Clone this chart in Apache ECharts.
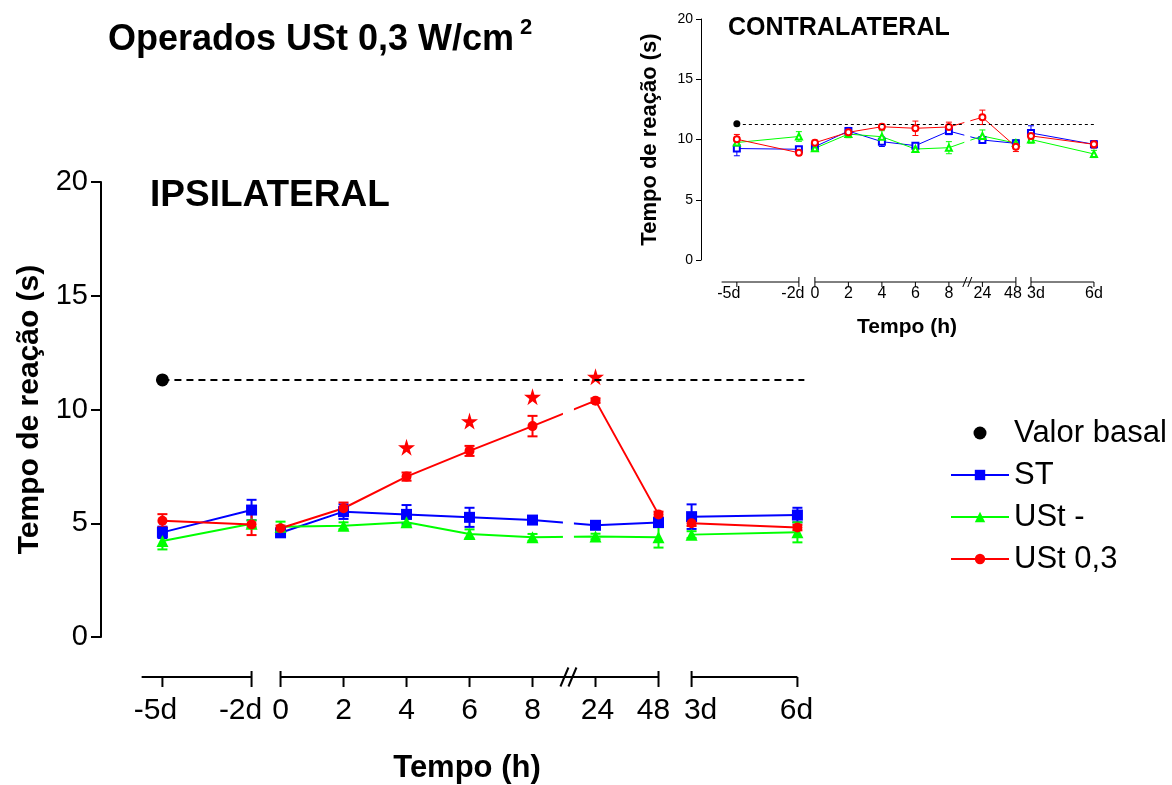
<!DOCTYPE html>
<html>
<head>
<meta charset="utf-8">
<script src="https://cdn.jsdelivr.net/npm/echarts@6/dist/echarts.min.js"></script>
<style>
  html, body { margin: 0; padding: 0; background: #fff; }
  #chart { width: 1172px; height: 785px; }
</style>
</head>
<body>
<div id="chart"></div>
<script>
// ---- time axis -------------------------------------------------------------
const tickLabels = ['-5d', '-2d', '0', '2', '4', '6', '8', '24', '48', '3d', '6d'];
// where each time point sits on the broken time axis (hour slots, 2 h apart)
const ipsiSlots = [-3.75, -0.92, 0, 2, 4, 6, 8, 10, 12, 13.05, 16.41];
const contraSlots = [-4.66, -0.955, 0, 2, 4, 6, 8, 10, 12, 12.9, 16.66];
// tick style per time point: 1 = segment end (tick crosses the line), 0 = plain tick
const tickCrosses = [0, 1, 1, 0, 0, 0, 0, 0, 1, 1, 0];
// points after which the curves are not joined
const unjoinedAfter = [1, 8];

// ---- baseline ---------------------------------------------------------------
const basal = 11.3;

// ---- IPSILATERAL (mean and error) ------------------------------------------
const ipsiST      = [4.60, 5.58, 4.58, 5.51, 5.39, 5.26, 5.14, 4.91, 5.03, 5.29, 5.36];
const ipsiSTErr   = [0.25, 0.45, 0.15, 0.32, 0.41, 0.42, 0.15, 0.12, 0.18, 0.54, 0.32];
const ipsiUStNeg    = [4.22, 4.98, 4.85, 4.89, 5.04, 4.53, 4.38, 4.42, 4.38, 4.50, 4.60];
const ipsiUStNegErr = [0.37, 0.15, 0.22, 0.15, 0.15, 0.2, 0.15, 0.12, 0.45, 0.15, 0.44];
const ipsiUSt03    = [5.11, 4.95, 4.78, 5.66, 7.05, 8.18, 9.27, 10.39, 5.39, 5.00, 4.81];
const ipsiUSt03Err = [0.29, 0.47, 0.12, 0.25, 0.18, 0.22, 0.45, 0.1, 0.12, 0.12, 0.12];
// significance marks
const starLabels = ['4', '6', '8', '24'];
const starValues = [8.34, 9.49, 10.56, 11.44];

// ---- CONTRALATERAL (mean and error) ----------------------------------------
const contraST      = [9.25, 9.19, 9.40, 10.70, 9.82, 9.49, 10.70, 9.96, 9.68, 10.54, 9.60];
const contraSTErr   = [0.60, 0.20, 0.30, 0.30, 0.40, 0.20, 0.30, 0.20, 0.30, 0.60, 0.30];
const contraUStNeg    = [9.75, 10.25, 9.27, 10.45, 10.23, 9.21, 9.32, 10.29, 9.70, 10.00, 8.80];
const contraUStNegErr = [0.30, 0.40, 0.20, 0.30, 0.50, 0.20, 0.50, 0.50, 0.30, 0.30, 0.30];
const contraUSt03    = [10.02, 8.90, 9.73, 10.60, 11.06, 10.93, 11.04, 11.84, 9.40, 10.30, 9.60];
const contraUSt03Err = [0.40, 0.20, 0.20, 0.20, 0.20, 0.60, 0.40, 0.60, 0.40, 0.30, 0.30];

const FONT = 'Liberation Sans, Arial, Helvetica, sans-serif';
const BLUE = '#0000ff', GREEN = '#00ff00', RED = '#ff0000';

function joinedData(slots, vals) {
  const out = [];
  vals.forEach((v, i) => {
    out.push([slots[i], v]);
    if (unjoinedAfter.includes(i)) out.push([slots[i], '-']);
  });
  return out;
}

function lineSeries(name, panel, slots, vals, symbol, size, color, lw) {
  return {
    name, type: 'line', xAxisIndex: panel, yAxisIndex: panel,
    data: joinedData(slots, vals),
    symbol, symbolSize: size, showSymbol: true,
    lineStyle: { color, width: lw },
    itemStyle: { color, borderWidth: panel ? 1.2 : 0, opacity: 1 },
    z: 3
  };
}

function errorSeries(panel, slots, vals, errs, color, lw, cap) {
  return {
    type: 'custom', xAxisIndex: panel, yAxisIndex: panel, clip: false, z: 2,
    data: vals.map((v, i) => [slots[i], v, errs[i]]),
    renderItem(params, api) {
      const x = api.value(0), y = api.value(1), e = api.value(2);
      const t = api.coord([x, y + e]), b = api.coord([x, y - e]);
      const s = { stroke: color, lineWidth: lw };
      return { type: 'group', children: [
        { type: 'line', shape: { x1: t[0], y1: t[1], x2: b[0], y2: b[1] }, style: s },
        { type: 'line', shape: { x1: t[0] - cap, y1: t[1], x2: t[0] + cap, y2: t[1] }, style: s },
        { type: 'line', shape: { x1: b[0] - cap, y1: b[1], x2: b[0] + cap, y2: b[1] }, style: s }
      ] };
    }
  };
}

// broken time axis drawn below the plot: segments, ticks, labels and the // mark
function timeAxis(panel, slots, segments, breakAt, cfg) {
  const base = (api, x) => {
    const p = api.coord([x, 0]);
    return [p[0], p[1] + cfg.offset];
  };
  const stroke = { stroke: '#000', lineWidth: cfg.lw };
  return [
    {
      type: 'custom', xAxisIndex: panel, yAxisIndex: panel, clip: false, z: 6, silent: true,
      data: segments,
      renderItem(params, api) {
        const a = base(api, api.value(0)), b = base(api, api.value(1));
        return { type: 'line', shape: { x1: a[0], y1: a[1], x2: b[0], y2: b[1] }, style: stroke };
      }
    },
    {
      type: 'custom', xAxisIndex: panel, yAxisIndex: panel, clip: false, z: 6, silent: true,
      data: slots.map((s, i) => [s, tickCrosses[i]]),
      renderItem(params, api) {
        const p = base(api, api.value(0));
        const up = api.value(1) ? cfg.tickUp : 0;
        return { type: 'group', children: [
          { type: 'line', shape: { x1: p[0], y1: p[1] - up, x2: p[0], y2: p[1] + cfg.tickDown }, style: stroke },
          { type: 'text', x: p[0] + cfg.labelShift[params.dataIndex], y: p[1] + cfg.labelDy, style: {
            text: tickLabels[params.dataIndex], fill: '#000', fontSize: cfg.fontSize,
            fontFamily: FONT, align: 'center', verticalAlign: 'middle' } }
        ] };
      }
    },
    {
      // white gap across the curves at the axis break, and the // mark on the axis
      type: 'custom', xAxisIndex: panel, yAxisIndex: panel, clip: false, z: 5, silent: true,
      data: [[breakAt, 0]],
      renderItem(params, api) {
        const p = base(api, api.value(0));
        const top = api.coord([api.value(0), 13])[1], bot = api.coord([api.value(0), 1])[1];
        const h = cfg.slashH, w = cfg.slashW, g = cfg.slashGap;
        return { type: 'group', children: [
          { type: 'rect', shape: { x: p[0] - cfg.gapW / 2, y: top, width: cfg.gapW, height: bot - top },
            style: { fill: '#fff' } },
          { type: 'line', shape: { x1: p[0] - g - w / 2, y1: p[1] + h / 2, x2: p[0] - g + w / 2, y2: p[1] - h / 2 }, style: stroke, z2: 10 },
          { type: 'line', shape: { x1: p[0] + g - w / 2, y1: p[1] + h / 2, x2: p[0] + g + w / 2, y2: p[1] - h / 2 }, style: stroke, z2: 10 }
        ] };
      }
    }
  ];
}

function basalSeries(panel, slots, size, dashEnd, lw, dash) {
  return {
    name: 'Valor basal', type: 'scatter', xAxisIndex: panel, yAxisIndex: panel,
    data: [[slots[0], basal]], symbol: 'circle', symbolSize: size,
    itemStyle: { color: '#000', opacity: 1 }, z: 4,
    markLine: {
      silent: true, symbol: 'none', label: { show: false },
      lineStyle: { color: '#000', width: lw, type: dash, opacity: 1 },
      data: [[{ coord: [slots[0], basal] }, { coord: [dashEnd, basal] }]]
    }
  };
}

const STAR = 'path://M50,0 L61,35 L98,35 L68,57 L79,91 L50,70 L21,91 L32,57 L2,35 L39,35 Z';

const yAxisCommon = (panel, cfg) => ({
  type: 'value', gridIndex: panel, min: 0, max: 20, interval: 5,
  axisLine: { show: true, onZero: false, lineStyle: { color: '#000', width: cfg.lw } },
  axisTick: { show: true, length: cfg.tick, lineStyle: { color: '#000', width: cfg.lw } },
  axisLabel: { color: '#000', fontSize: cfg.fontSize, fontFamily: FONT, margin: cfg.margin },
  splitLine: { show: false },
  name: 'Tempo de reação (s)', nameLocation: 'middle', nameRotate: 90, nameGap: cfg.nameGap,
  nameTextStyle: { color: '#000', fontSize: cfg.nameSize, fontWeight: 'bold', fontFamily: FONT }
});

const ipsiAxisCfg = { offset: 40, tickUp: 6, tickDown: 10, labelDy: 34, lw: 2, fontSize: 30,
  labelShift: [-7, -11, 0, 0, 0, 0, 0, 2, -5, 9, -1],
  slashH: 19, slashW: 8, slashGap: 4, gapW: 11 };
const contraAxisCfg = { offset: 22, tickUp: 5, tickDown: 5, labelDy: 12, lw: 1, fontSize: 16,
  labelShift: [-8, -6, 0, 0, 0, 0, 0, 0, -3, 5, 0],
  slashH: 10, slashW: 4, slashGap: 2.5, gapW: 6 };

const option = {
  animation: false,
  backgroundColor: '#fff',
  grid: [
    { left: 101, top: 182, width: 715, height: 455 },
    { left: 701, top: 19, width: 402, height: 241 }
  ],
  xAxis: [
    { type: 'value', gridIndex: 0, min: -5.7, max: 17, show: false },
    { type: 'value', gridIndex: 1, min: -6.8, max: 17.2, show: false }
  ],
  yAxis: [
    yAxisCommon(0, { lw: 2, tick: 10, fontSize: 29, margin: 13, nameGap: 56, nameSize: 30 }),
    yAxisCommon(1, { lw: 1, tick: 5, fontSize: 14, margin: 8, nameGap: 40, nameSize: 22 })
  ],
  legend: {
    data: ['Valor basal', 'ST', 'USt -', 'USt 0,3'],
    orient: 'vertical', left: 945, top: 412,
    itemWidth: 58, itemHeight: 13, itemGap: 10, selectedMode: false,
    textStyle: { color: '#000', fontSize: 31, fontFamily: FONT, lineHeight: 32 }
  },
  graphic: [
    { type: 'text', left: 108, top: 22, style: { text: 'Operados USt 0,3 W/cm', fill: '#000',
      fontSize: 36, fontWeight: 'bold', fontFamily: FONT } },
    { type: 'text', left: 520, top: 17, style: { text: '2', fill: '#000',
      fontSize: 22, fontWeight: 'bold', fontFamily: FONT } },
    { type: 'text', left: 150, top: 177, style: { text: 'IPSILATERAL', fill: '#000',
      fontSize: 37, fontWeight: 'bold', fontFamily: FONT } },
    { type: 'text', left: 728, top: 16, style: { text: 'CONTRALATERAL', fill: '#000',
      fontSize: 25, fontWeight: 'bold', fontFamily: FONT } },
    { type: 'text', x: 467, y: 768, style: { text: 'Tempo (h)', fill: '#000', align: 'center',
      verticalAlign: 'middle', fontSize: 31, fontWeight: 'bold', fontFamily: FONT } },
    { type: 'text', x: 907, y: 327, style: { text: 'Tempo (h)', fill: '#000', align: 'center',
      verticalAlign: 'middle', fontSize: 21, fontWeight: 'bold', fontFamily: FONT } }
  ],
  series: [
    // IPSILATERAL
    basalSeries(0, ipsiSlots, 13, 16.63, 2, [7, 5]),
    lineSeries('ST', 0, ipsiSlots, ipsiST, 'rect', 11, BLUE, 2),
    lineSeries('USt -', 0, ipsiSlots, ipsiUStNeg, 'triangle', 12, GREEN, 2),
    lineSeries('USt 0,3', 0, ipsiSlots, ipsiUSt03, 'circle', 10, RED, 2),
    errorSeries(0, ipsiSlots, ipsiST, ipsiSTErr, BLUE, 2, 5),
    errorSeries(0, ipsiSlots, ipsiUStNeg, ipsiUStNegErr, GREEN, 2, 5),
    errorSeries(0, ipsiSlots, ipsiUSt03, ipsiUSt03Err, RED, 2, 5),
    {
      type: 'scatter', xAxisIndex: 0, yAxisIndex: 0, symbol: STAR, symbolSize: 17,
      itemStyle: { color: RED, opacity: 1 }, z: 4,
      data: starLabels.map((l, i) => [ipsiSlots[tickLabels.indexOf(l)], starValues[i]])
    },
    ...timeAxis(0, ipsiSlots, [[-4.41, -0.92], [0, 12], [13.05, 16.41]], 9.14, ipsiAxisCfg),

    // CONTRALATERAL
    basalSeries(1, contraSlots, 7, 16.7, 1, [3, 3]),
    lineSeries('ST', 1, contraSlots, contraST, 'emptyRect', 6, BLUE, 1),
    lineSeries('USt -', 1, contraSlots, contraUStNeg, 'emptyTriangle', 6, GREEN, 1),
    lineSeries('USt 0,3', 1, contraSlots, contraUSt03, 'emptyCircle', 6, RED, 1),
    errorSeries(1, contraSlots, contraST, contraSTErr, BLUE, 1, 3),
    errorSeries(1, contraSlots, contraUStNeg, contraUStNegErr, GREEN, 1, 3),
    errorSeries(1, contraSlots, contraUSt03, contraUSt03Err, RED, 1, 3),
    ...timeAxis(1, contraSlots, [[-5.57, -0.955], [0, 12], [12.9, 16.66]], 9.1, contraAxisCfg)
  ]
};

echarts.init(document.getElementById('chart'), null, { renderer: 'canvas' }).setOption(option);
</script>
</body>
</html>
